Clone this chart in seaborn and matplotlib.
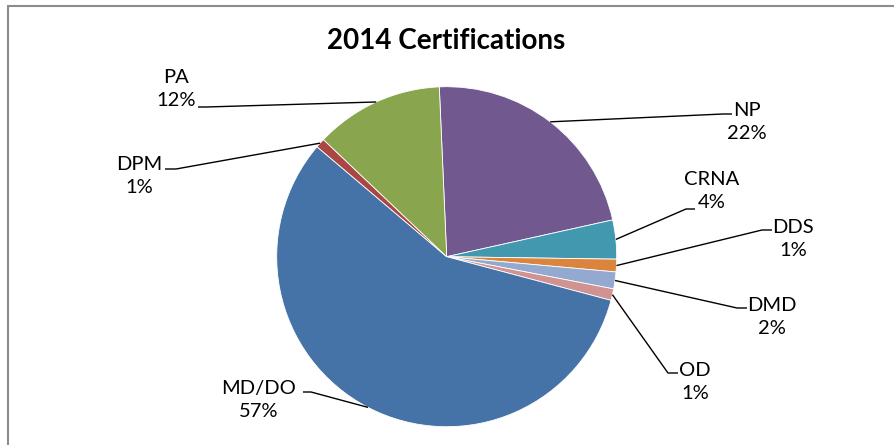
import numpy as np
import matplotlib
matplotlib.use('Agg')
import matplotlib.pyplot as plt
from matplotlib.lines import Line2D
import seaborn as sns

# slices in order, clockwise from the top
labels = ["NP", "CRNA", "DDS", "DMD", "OD", "MD/DO", "DPM", "PA"]
shares = [22.2, 3.7, 1.2, 1.6, 1.1, 57.0, 0.9, 12.2]
colors = ["#71588F", "#4198AF", "#DB843D", "#93A9CF", "#D19392",
          "#4572A7", "#AA4643", "#89A54E"]
title = "2014 Certifications"

sns.set_theme(style="white")
plt.rcParams['font.family'] = ['Lato', 'DejaVu Sans']

# layout in pixels
W, H = 894, 445
CX, CY, R = 446.7, 256.7, 170.0
# label block centre, end of leader line (next to text), elbow of leader line
label_pos = {
    "NP": ((747, 122), (732, 114), (723, 114)),
    "CRNA": ((712, 191), (695, 209), (686, 209)),
    "DDS": ((793, 239), (772, 230), (762, 230)),
    "DMD": ((772, 317), (747, 308), (737, 308)),
    "OD": ((695, 382), (678, 373), (668, 373)),
    "MD/DO": ((259, 400), (303, 392), (311, 392)),
    "DPM": ((139, 176), (165, 169), (176, 169)),
    "PA": ((176, 89), (198, 107), (206, 107)),
}


def px(x, y):
    return (x - CX) / R, (CY - y) / R


fig = plt.figure(figsize=(W / 100, H / 100), dpi=100)
ax = fig.add_axes([0, 0, 1, 1])

wedges, _ = ax.pie(shares, colors=colors, startangle=92.5, counterclock=False,
                   radius=1, center=(0, 0),
                   wedgeprops=dict(edgecolor='white', linewidth=0.6))
ax.set_xlim(-CX / R, (W - CX) / R)
ax.set_ylim((CY - H) / R, CY / R)
ax.axis('off')

for w, lab, s in zip(wedges, labels, shares):
    mid = np.deg2rad((w.theta1 + w.theta2) / 2)
    ax_, ay_ = np.cos(mid), np.sin(mid)
    (tx, ty), end, elbow = label_pos[lab]
    ex, ey = px(*end)
    bx, by = px(*elbow)
    ax.plot([ax_, bx, ex], [ay_, by, ey], color='black', lw=1, solid_capstyle='butt')
    x, y = px(tx, ty)
    ax.text(x, y, f"{lab}\n{round(s)}%", ha='center', va='center',
            fontsize=14.5, linespacing=1.45, color='black')

fig.text(446 / W, 1 - 49 / H, title, ha='center', va='baseline',
         fontsize=20, fontweight='bold', color='black')

# chart frame (only top and left visible in the crop)
fig.add_artist(Line2D([8 / W, 8 / W], [0, 1 - 6 / H], color='#8c8c8c', lw=1.5))
fig.add_artist(Line2D([8 / W, 1], [1 - 6 / H, 1 - 6 / H], color='#8c8c8c', lw=1.5))

fig.savefig("out.png", dpi=100)
plt.close()
